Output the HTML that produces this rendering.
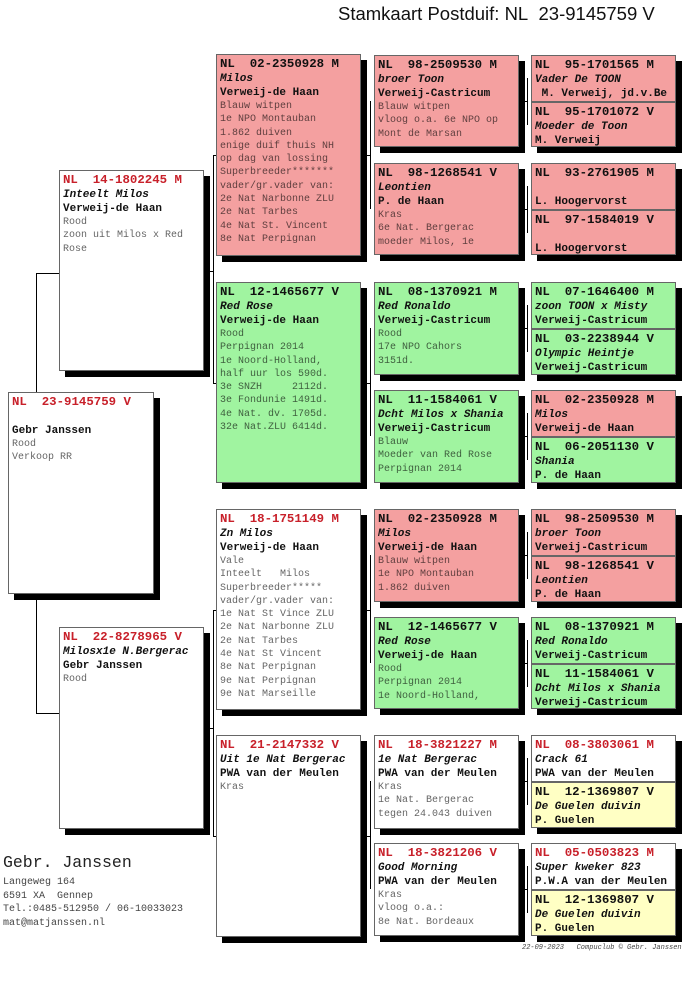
<!DOCTYPE html>
<html><head><meta charset="utf-8"><style>
body{margin:0;width:685px;height:983px;background:#fff;position:relative;overflow:hidden;font-family:"Liberation Mono",monospace}
.b{position:absolute;box-sizing:border-box;border:1px solid #666;box-shadow:6px 6px 0 #000;padding:1px 3px;font-size:10px;line-height:13.3px;color:rgba(0,0,0,.62);white-space:pre;overflow:hidden}
.w{background:#fff}.r{background:#f4a0a0}.g{background:#a0f4a0}.y{background:#ffffc4}
.h{font-weight:bold;font-size:12.4px;line-height:17px;color:#111}
.hr{color:#c8202a}
.i{font-weight:bold;font-style:italic;font-size:11px;line-height:13px;color:#111}
.n{font-weight:bold;font-size:11px;line-height:14px;color:#111}
.l{position:absolute;background:#000}
.t{position:absolute;left:338px;top:3px;font-family:"Liberation Sans",sans-serif;font-size:18.5px;color:#111;white-space:nowrap}
</style></head><body>
<div class="t">Stamkaart Postduif: NL&nbsp; 23-9145759 V</div>

<!-- connectors -->
<div class="l" style="left:36px;top:273px;width:1px;height:441px"></div>
<div class="l" style="left:36px;top:273px;width:23px;height:1px"></div>
<div class="l" style="left:36px;top:713px;width:23px;height:1px"></div>

<div class="l" style="left:213px;top:155px;width:1px;height:228px"></div>
<div class="l" style="left:210px;top:271px;width:4px;height:1px"></div>
<div class="l" style="left:213px;top:155px;width:3px;height:1px"></div>
<div class="l" style="left:213px;top:383px;width:3px;height:1px"></div>
<div class="l" style="left:213px;top:610px;width:1px;height:226px"></div>
<div class="l" style="left:210px;top:728px;width:4px;height:1px"></div>
<div class="l" style="left:213px;top:610px;width:3px;height:1px"></div>
<div class="l" style="left:213px;top:836px;width:3px;height:1px"></div>

<div class="l" style="left:370px;top:101px;width:1px;height:108px"></div>
<div class="l" style="left:367px;top:155px;width:4px;height:1px"></div>
<div class="l" style="left:370px;top:328px;width:1px;height:108px"></div>
<div class="l" style="left:367px;top:383px;width:4px;height:1px"></div>
<div class="l" style="left:370px;top:555px;width:1px;height:108px"></div>
<div class="l" style="left:367px;top:610px;width:4px;height:1px"></div>
<div class="l" style="left:370px;top:781px;width:1px;height:108px"></div>
<div class="l" style="left:367px;top:836px;width:4px;height:1px"></div>

<div class="l" style="left:527px;top:78px;width:1px;height:47px"></div>
<div class="l" style="left:525px;top:101px;width:3px;height:1px"></div>
<div class="l" style="left:527px;top:186px;width:1px;height:47px"></div>
<div class="l" style="left:525px;top:209px;width:3px;height:1px"></div>
<div class="l" style="left:527px;top:305px;width:1px;height:47px"></div>
<div class="l" style="left:525px;top:328px;width:3px;height:1px"></div>
<div class="l" style="left:527px;top:413px;width:1px;height:47px"></div>
<div class="l" style="left:525px;top:436px;width:3px;height:1px"></div>
<div class="l" style="left:527px;top:532px;width:1px;height:47px"></div>
<div class="l" style="left:525px;top:555px;width:3px;height:1px"></div>
<div class="l" style="left:527px;top:640px;width:1px;height:47px"></div>
<div class="l" style="left:525px;top:663px;width:3px;height:1px"></div>
<div class="l" style="left:527px;top:758px;width:1px;height:47px"></div>
<div class="l" style="left:525px;top:781px;width:3px;height:1px"></div>
<div class="l" style="left:527px;top:866px;width:1px;height:47px"></div>
<div class="l" style="left:525px;top:889px;width:3px;height:1px"></div>

<!-- col1 -->
<div class="b w" style="left:8px;top:392px;width:146px;height:202px"><div class="h hr">NL  23-9145759 V</div><div class="i">&nbsp;</div><div class="n">Gebr Janssen</div>Rood
Verkoop RR</div>

<!-- col2 -->
<div class="b w" style="left:59px;top:170px;width:145px;height:201px"><div class="h hr">NL  14-1802245 M</div><div class="i">Inteelt Milos</div><div class="n">Verweij-de Haan</div>Rood
zoon uit Milos x Red
Rose</div>
<div class="b w" style="left:59px;top:627px;width:145px;height:202px"><div class="h hr">NL  22-8278965 V</div><div class="i">Milosx1e N.Bergerac</div><div class="n">Gebr Janssen</div>Rood</div>

<!-- col3 -->
<div class="b r" style="left:216px;top:54px;width:145px;height:202px"><div class="h">NL  02-2350928 M</div><div class="i">Milos</div><div class="n">Verweij-de Haan</div>Blauw witpen
1e NPO Montauban
1.862 duiven
enige duif thuis NH
op dag van lossing
Superbreeder*******
vader/gr.vader van:
2e Nat Narbonne ZLU
2e Nat Tarbes
4e Nat St. Vincent
8e Nat Perpignan</div>
<div class="b g" style="left:216px;top:282px;width:145px;height:201px"><div class="h">NL  12-1465677 V</div><div class="i">Red Rose</div><div class="n">Verweij-de Haan</div>Rood
Perpignan 2014
1e Noord-Holland,
half uur los 590d.
3e SNZH     2112d.
3e Fondunie 1491d.
4e Nat. dv. 1705d.
32e Nat.ZLU 6414d.</div>
<div class="b w" style="left:216px;top:509px;width:145px;height:201px"><div class="h hr">NL  18-1751149 M</div><div class="i">Zn Milos</div><div class="n">Verweij-de Haan</div>Vale
Inteelt   Milos
Superbreeder*****
vader/gr.vader van:
1e Nat St Vince ZLU
2e Nat Narbonne ZLU
2e Nat Tarbes
4e Nat St Vincent
8e Nat Perpignan
9e Nat Perpignan
9e Nat Marseille</div>
<div class="b w" style="left:216px;top:735px;width:145px;height:202px"><div class="h hr">NL  21-2147332 V</div><div class="i">Uit 1e Nat Bergerac</div><div class="n">PWA van der Meulen</div>Kras</div>

<!-- col4 -->
<div class="b r" style="left:374px;top:55px;width:145px;height:92px"><div class="h">NL  98-2509530 M</div><div class="i">broer Toon</div><div class="n">Verweij-Castricum</div>Blauw witpen
vloog o.a. 6e NPO op
Mont de Marsan</div>
<div class="b r" style="left:374px;top:163px;width:145px;height:92px"><div class="h">NL  98-1268541 V</div><div class="i">Leontien</div><div class="n">P. de Haan</div>Kras
6e Nat. Bergerac
moeder Milos, 1e</div>
<div class="b g" style="left:374px;top:282px;width:145px;height:93px"><div class="h">NL  08-1370921 M</div><div class="i">Red Ronaldo</div><div class="n">Verweij-Castricum</div>Rood
17e NPO Cahors
3151d.</div>
<div class="b g" style="left:374px;top:390px;width:145px;height:93px"><div class="h">NL  11-1584061 V</div><div class="i">Dcht Milos x Shania</div><div class="n">Verweij-Castricum</div>Blauw
Moeder van Red Rose
Perpignan 2014</div>
<div class="b r" style="left:374px;top:509px;width:145px;height:93px"><div class="h">NL  02-2350928 M</div><div class="i">Milos</div><div class="n">Verweij-de Haan</div>Blauw witpen
1e NPO Montauban
1.862 duiven</div>
<div class="b g" style="left:374px;top:617px;width:145px;height:92px"><div class="h">NL  12-1465677 V</div><div class="i">Red Rose</div><div class="n">Verweij-de Haan</div>Rood
Perpignan 2014
1e Noord-Holland,</div>
<div class="b w" style="left:374px;top:735px;width:145px;height:94px"><div class="h hr">NL  18-3821227 M</div><div class="i">1e Nat Bergerac</div><div class="n">PWA van der Meulen</div>Kras
1e Nat. Bergerac
tegen 24.043 duiven</div>
<div class="b w" style="left:374px;top:843px;width:145px;height:93px"><div class="h hr">NL  18-3821206 V</div><div class="i">Good Morning</div><div class="n">PWA van der Meulen</div>Kras
vloog o.a.:
8e Nat. Bordeaux</div>

<!-- col5 -->
<div class="b r" style="left:531px;top:55px;width:145px;height:47px"><div class="h">NL  95-1701565 M</div><div class="i">Vader De TOON</div><div class="n"> M. Verweij, jd.v.Be</div></div>
<div class="b r" style="left:531px;top:102px;width:145px;height:45px"><div class="h">NL  95-1701072 V</div><div class="i">Moeder de Toon</div><div class="n">M. Verweij</div></div>
<div class="b r" style="left:531px;top:163px;width:145px;height:47px"><div class="h">NL  93-2761905 M</div><div class="i">&nbsp;</div><div class="n">L. Hoogervorst</div></div>
<div class="b r" style="left:531px;top:210px;width:145px;height:45px"><div class="h">NL  97-1584019 V</div><div class="i">&nbsp;</div><div class="n">L. Hoogervorst</div></div>
<div class="b g" style="left:531px;top:282px;width:145px;height:47px"><div class="h">NL  07-1646400 M</div><div class="i">zoon TOON x Misty</div><div class="n">Verweij-Castricum</div></div>
<div class="b g" style="left:531px;top:329px;width:145px;height:46px"><div class="h">NL  03-2238944 V</div><div class="i">Olympic Heintje</div><div class="n">Verweij-Castricum</div></div>
<div class="b r" style="left:531px;top:390px;width:145px;height:47px"><div class="h">NL  02-2350928 M</div><div class="i">Milos</div><div class="n">Verweij-de Haan</div></div>
<div class="b g" style="left:531px;top:437px;width:145px;height:46px"><div class="h">NL  06-2051130 V</div><div class="i">Shania</div><div class="n">P. de Haan</div></div>
<div class="b r" style="left:531px;top:509px;width:145px;height:47px"><div class="h">NL  98-2509530 M</div><div class="i">broer Toon</div><div class="n">Verweij-Castricum</div></div>
<div class="b r" style="left:531px;top:556px;width:145px;height:46px"><div class="h">NL  98-1268541 V</div><div class="i">Leontien</div><div class="n">P. de Haan</div></div>
<div class="b g" style="left:531px;top:617px;width:145px;height:47px"><div class="h">NL  08-1370921 M</div><div class="i">Red Ronaldo</div><div class="n">Verweij-Castricum</div></div>
<div class="b g" style="left:531px;top:664px;width:145px;height:45px"><div class="h">NL  11-1584061 V</div><div class="i">Dcht Milos x Shania</div><div class="n">Verweij-Castricum</div></div>
<div class="b w" style="left:531px;top:735px;width:145px;height:47px"><div class="h hr">NL  08-3803061 M</div><div class="i">Crack 61</div><div class="n">PWA van der Meulen</div></div>
<div class="b y" style="left:531px;top:782px;width:145px;height:46px"><div class="h">NL  12-1369807 V</div><div class="i">De Guelen duivin</div><div class="n">P. Guelen</div></div>
<div class="b w" style="left:531px;top:843px;width:145px;height:47px"><div class="h hr">NL  05-0503823 M</div><div class="i">Super kweker 823</div><div class="n">P.W.A van der Meulen</div></div>
<div class="b y" style="left:531px;top:890px;width:145px;height:46px"><div class="h">NL  12-1369807 V</div><div class="i">De Guelen duivin</div><div class="n">P. Guelen</div></div>

<!-- footer -->
<div style="position:absolute;left:3px;top:853px;font-size:16.5px;color:#222;white-space:pre">Gebr. Janssen</div>
<div style="position:absolute;left:3px;top:876px;font-size:10px;line-height:13.5px;color:#444;white-space:pre">Langeweg 164
6591 XA  Gennep
Tel.:0485-512950 / 06-10033023
mat@matjanssen.nl</div>
<div style="position:absolute;left:522px;top:944px;font-size:7px;font-style:italic;color:#444;white-space:pre">22-09-2023   Compuclub © Gebr. Janssen</div>
</body></html>
